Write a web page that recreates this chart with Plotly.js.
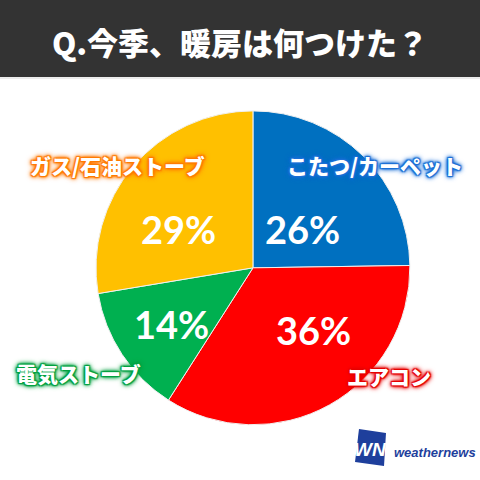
<!DOCTYPE html>
<html>
<head>
<meta charset="utf-8">
<script src="https://cdn.plot.ly/plotly-3.0.1.min.js"></script>
<style>
  html, body { margin: 0; padding: 0; background: #ffffff; }
  #chart { width: 480px; height: 480px; }
</style>
</head>
<body>
<div id="chart"></div>
<script>
// Survey: which heating did you use this season?
const categories = ['こたつ/カーペット', 'エアコン', '電気ストーブ', 'ガス/石油ストーブ'];
const values = [26, 36, 14, 29];
const sliceColors = ['#0070C0', '#FF0000', '#00B050', '#FFC000'];
const glowColors = ['#1a6fd6', '#e60000', '#00a040', '#ff7a00'];

const titleText = 'Q.今季、暖房は何つけた？';

// label placement (pixels in the 480x480 canvas)
const pctPos = [[302, 229], [313, 330], [171, 324], [178, 229]];
const namePos = [[375, 165], [389, 376], [78, 373], [117, 165]];

const jp = '"Noto Sans CJK JP", "Noto Sans", sans-serif';
const W = 480, H = 480;
const px = x => x / W;
const py = y => 1 - y / H;

// soft coloured halo around the white category names
function glow(c) {
  return `1px 1px 1px ${c}, -1px -1px 1px ${c}, 1px -1px 1px ${c}, -1px 1px 1px ${c}, ` +
         `0 0 3px ${c}, 0 0 4px ${c}, 0 0 5px ${c}, 0 0 6px ${c}`;
}

const annotations = [];
values.forEach((v, i) => {
  annotations.push({
    xref: 'paper', yref: 'paper', x: px(pctPos[i][0]), y: py(pctPos[i][1]),
    xanchor: 'center', yanchor: 'middle', showarrow: false,
    text: v + '%',
    font: { family: 'Lato, "Open Sans", sans-serif', size: 38, color: '#ffffff', weight: 'bold' }
  });
  annotations.push({
    xref: 'paper', yref: 'paper', x: px(namePos[i][0]), y: py(namePos[i][1]),
    xanchor: 'center', yanchor: 'middle', showarrow: false,
    text: categories[i],
    font: { family: jp, size: 21, color: '#ffffff', weight: 900, shadow: glow(glowColors[i]) }
  });
});

// weathernews mark
annotations.push({
  xref: 'paper', yref: 'paper', x: px(370), y: py(449),
  xanchor: 'center', yanchor: 'middle', showarrow: false,
  text: '<i>WN</i>',
  font: { family: '"Liberation Sans", Arial, sans-serif', size: 19, color: '#ffffff', weight: 'bold' }
});
annotations.push({
  xref: 'paper', yref: 'paper', x: px(392), y: py(452),
  xanchor: 'left', yanchor: 'middle', showarrow: false,
  text: '<i>weathernews</i>',
  font: { family: '"Liberation Sans", Arial, sans-serif', size: 13, color: '#1e3f9c', weight: 'bold' }
});

const data = [{
  type: 'pie',
  labels: categories,
  values: values,
  sort: false,
  direction: 'clockwise',
  rotation: 0,
  marker: { colors: sliceColors, line: { color: '#f0f0f0', width: 1 } },
  textinfo: 'none',
  hoverinfo: 'skip',
  domain: { x: [0.2, 0.854], y: [0.115, 0.769] },
  showlegend: false
}];

const layout = {
  width: W, height: H,
  margin: { l: 0, r: 0, t: 0, b: 0 },
  paper_bgcolor: '#ffffff',
  showlegend: false,
  title: {
    text: titleText,
    x: 0.5, xanchor: 'center',
    y: py(44), yanchor: 'middle',
    font: { family: jp, size: 31, color: '#ffffff', weight: 900 }
  },
  shapes: [
    {
      type: 'rect', xref: 'paper', yref: 'paper', layer: 'below',
      x0: 0, x1: 1, y0: py(77), y1: 1,
      fillcolor: '#333333', line: { width: 0 }
    },
    {
      type: 'line', xref: 'paper', yref: 'paper', layer: 'below',
      x0: 0, x1: 1, y0: py(78), y1: py(78),
      line: { color: '#d8d8d8', width: 1 }
    },
    {
      type: 'path', xref: 'paper', yref: 'paper',
      path: `M ${px(359)} ${py(429)} L ${px(386)} ${py(433)} L ${px(384)} ${py(466)} L ${px(355)} ${py(462)} Z`,
      fillcolor: '#1e3f9c', line: { width: 0 }
    }
  ],
  annotations: annotations
};

Plotly.newPlot('chart', data, layout, { staticPlot: true, displayModeBar: false });
</script>
</body>
</html>
